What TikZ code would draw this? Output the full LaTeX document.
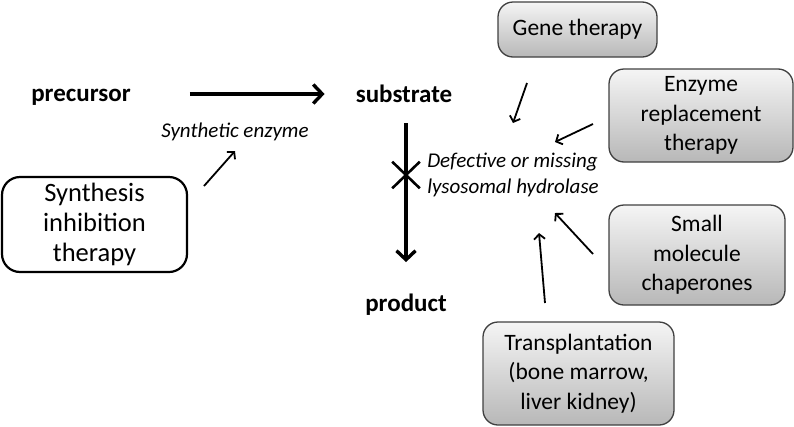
\documentclass[tikz,border=0pt]{standalone}
\usepackage{fontspec}
\setmainfont{Carlito}
\usetikzlibrary{arrows.meta,shapes.misc}

\colorlet{box edge}{black!75}
\colorlet{box top}{black!4}
\colorlet{box bottom}{black!28}
\tikzset{label/.style={inner sep=2pt, font=\fontsize{25}{30}\selectfont\bfseries},
    enzyme/.style={inner sep=2pt, align=left, font=\fontsize{21}{26}\selectfont\itshape},
    therapy/.style={rounded corners=15pt, draw=box edge, line width=1.3pt,
      top color=box top, bottom color=box bottom, align=center, inner sep=0pt,
      font=\fontsize{23.5}{29.5}\selectfont},
    plainbox/.style={rounded corners=18pt, draw=black, line width=2.2pt, fill=white,
      align=center, inner sep=0pt, font=\fontsize{26.5}{30}\selectfont},
    main/.style={line width=3.4pt, -{Straight Barb[length=9pt,width=19pt,line width=3.4pt]}},
    hint/.style={line width=1.8pt, -{Straight Barb[length=5pt,width=11pt,line width=1.8pt]}}}

\begin{document}
\begin{tikzpicture}[x=1pt,y=-1pt]
    \useasboundingbox (0,0) rectangle (794,426);
    \node[label] (pre) at (81,97) {precursor};
    \node[label] (sub) at (404,94) {substrate};
    \node[label] (prod) at (406,305) {product};
    \node[enzyme] (syn) at (235,132) {Synthetic enzyme};
    \node[enzyme] (hyd) at (513,175) {Defective or missing\\lysosomal hydrolase};

    \node[plainbox, minimum width=185pt, minimum height=95pt] (sit) at (94.5,224.5)
      {Synthesis\\inhibition\\therapy};
    \node[therapy, minimum width=159pt, minimum height=55pt] (gene) at (577.5,29.5) {Gene therapy};
    \node[therapy, minimum width=184pt, minimum height=93pt] (ert) at (701,115.5)
      {Enzyme\\replacement\\therapy};
    \node[therapy, minimum width=176pt, minimum height=100pt] (smc) at (697,255)
      {Small\\molecule\\chaperones};
    \node[therapy, minimum width=191pt, minimum height=103pt] (tx) at (578.5,373.5)
      {Transplantation\\(bone marrow,\\liver kidney)};

    \draw[main, shorten <=57pt, shorten >=29pt] (pre.east |- sub.west) -- (sub.west);
    \draw[main, shorten <=18pt, shorten >=30pt] (sub.south -| prod.north) -- (prod.north);
    \node[cross out, draw, line width=2.6pt, minimum width=25pt, minimum height=24pt,
      inner sep=0pt] (block) at (406,175) {};

    % free ends of the small arrows
    \coordinate (sit-out) at (204,186);
    \coordinate (syn-in) at (235,151);
    \coordinate (gene-out) at (527,83);
    \coordinate (gene-in) at (513,123);
    \coordinate (ert-out) at (593,124);
    \coordinate (ert-in) at (555,142);
    \coordinate (smc-out) at (593,254);
    \coordinate (smc-in) at (555,213);
    \coordinate (tx-out) at (545,303);
    \coordinate (tx-in) at (539,233);
    \foreach \f/\t in {sit-out/syn-in, gene-out/gene-in, ert-out/ert-in,
        smc-out/smc-in, tx-out/tx-in}
      \draw[hint] (\f) -- (\t);
\end{tikzpicture}
\end{document}
